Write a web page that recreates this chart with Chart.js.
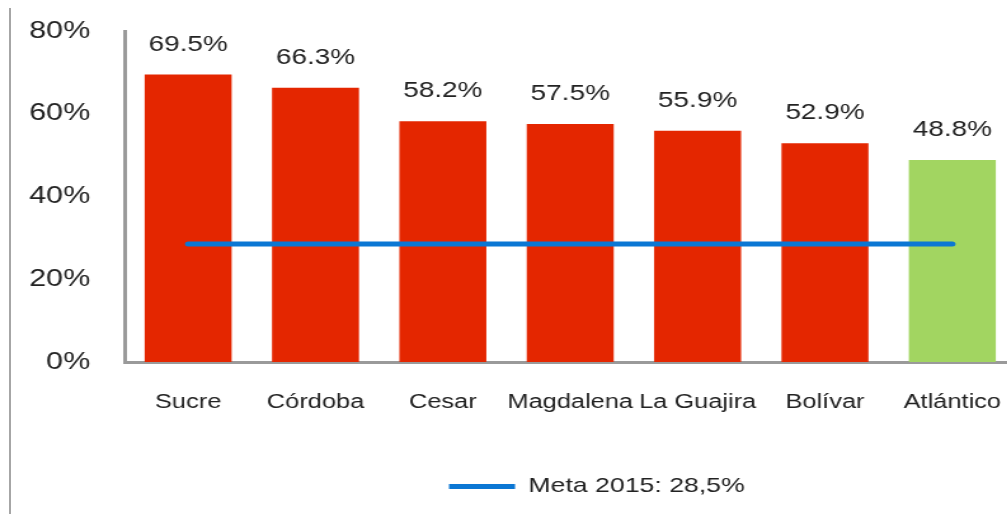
<!DOCTYPE html>
<html>
<head>
<meta charset="utf-8">
<script src="https://cdn.jsdelivr.net/npm/chart.js@4"></script>
<style>
html, body { margin: 0; padding: 0; overflow: hidden; background: #fff; width: 1007px; height: 514px; }
#wrap { position: absolute; left: 0; top: 0; width: 940px; height: 514px; transform: scaleX(1.27); transform-origin: 0 0; }
#frame { position: absolute; left: 9px; top: 8px; width: 2px; height: 506px; background: #a6a6a6; }
</style>
</head>
<body>
<div id="wrap"><canvas id="chart_pobreza" width="940" height="514"></canvas></div>
<div id="frame"></div>
<script>
var departamentos = ['Sucre', 'Córdoba', 'Cesar', 'Magdalena', 'La Guajira', 'Bolívar', 'Atlántico'];
var porcentajes = [69.5, 66.3, 58.2, 57.5, 55.9, 52.9, 48.8];
var meta2015 = [28.5, 28.5, 28.5, 28.5, 28.5, 28.5, 28.5];
var metaLabel = 'Meta 2015: 28,5%';
var yTicks = [0, 20, 40, 60, 80];

var FONT = '"Liberation Sans", Arial, sans-serif';
var barColors = departamentos.map(function (d, i) {
    return i === departamentos.length - 1 ? '#a2d561' : '#e42600';
});

// value labels above each bar
var valueLabels = {
    id: 'valueLabels',
    afterDatasetsDraw: function (chart) {
        var ctx = chart.ctx;
        var meta = chart.getDatasetMeta(1);
        ctx.save();
        ctx.font = '22px ' + FONT;
        ctx.fillStyle = '#222';
        ctx.textAlign = 'center';
        ctx.textBaseline = 'middle';
        meta.data.forEach(function (bar, i) {
            ctx.fillText(porcentajes[i].toFixed(1) + '%', bar.x, bar.y - 30);
        });
        ctx.restore();
    }
};

var chart_pobreza = new Chart(document.getElementById('chart_pobreza'), {
    data: {
        labels: departamentos,
        datasets: [
            {
                type: 'line',
                label: metaLabel,
                data: meta2015,
                borderColor: '#0b77d4',
                backgroundColor: '#0b77d4',
                borderWidth: 5,
                borderCapStyle: 'round',
                pointRadius: 0,
                pointStyle: 'line',
                order: 0
            },
            {
                type: 'bar',
                label: 'Porcentaje',
                data: porcentajes,
                backgroundColor: barColors,
                borderWidth: 0,
                barPercentage: 0.683,
                categoryPercentage: 1,
                order: 1
            }
        ]
    },
    options: {
        animation: false,
        responsive: false,
        layout: { padding: { top: 31, bottom: 7, left: 0, right: 0 } },
        plugins: {
            tooltip: { enabled: false },
            legend: {
                position: 'bottom',
                labels: {
                    filter: function (item) { return item.datasetIndex === 0; },
                    usePointStyle: true,
                    pointStyleWidth: 52,
                    color: '#222',
                    font: { family: FONT, size: 21 },
                    padding: 10
                }
            }
        },
        scales: {
            x: {
                grid: { display: false, drawTicks: false },
                border: { display: true, color: '#9a9a9a', width: 3 },
                ticks: { color: '#222', font: { family: FONT, size: 20 }, padding: 28, maxRotation: 0, autoSkip: false },
                afterFit: function (s) { s.height = 104; }
            },
            y: {
                min: 0,
                max: 80,
                grid: { display: false, drawTicks: false },
                border: { display: true, color: '#9a9a9a', width: 3 },
                ticks: {
                    color: '#222',
                    font: { family: FONT, size: 24 },
                    padding: 27,
                    callback: function (v) { return v + '%'; }
                },
                afterBuildTicks: function (s) { s.ticks = yTicks.map(function (v) { return { value: v }; }); },
                afterFit: function (s) { s.width = 98; s.paddingTop = 0; s.paddingBottom = 0; }
            },
            pad: {
                type: 'linear',
                position: 'right',
                display: true,
                grid: { display: false, drawTicks: false },
                border: { display: false },
                ticks: { display: false },
                afterFit: function (s) { s.width = 140; s.paddingTop = 0; s.paddingBottom = 0; }
            }
        }
    },
    plugins: [valueLabels]
});
</script>
</body>
</html>
